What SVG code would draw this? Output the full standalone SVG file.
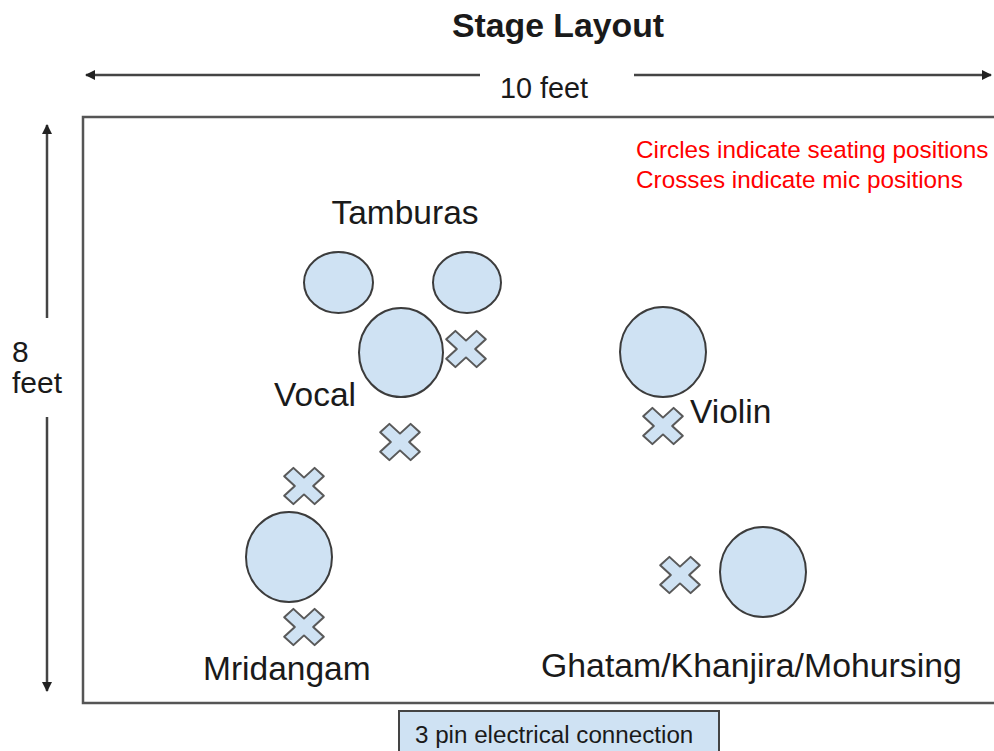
<svg xmlns="http://www.w3.org/2000/svg" xmlns:xlink="http://www.w3.org/1999/xlink" width="994" height="751" viewBox="0 0 994 751">
<style>
.seat{fill:#cfe2f3;stroke:#3c3c3c;stroke-width:2}
.mic{fill:#cfe2f3;stroke:#595959;stroke-width:2;stroke-linejoin:round}
.lbl{font-family:"Liberation Sans",Arial,sans-serif;fill:#1a1a1a}
.note{font-family:"Liberation Sans",Arial,sans-serif;fill:#ff0000;font-size:24.3px}
.dim{stroke:#444;stroke-width:2.5;fill:none}
.edge{stroke:#555;stroke-width:2.5;fill:none}
</style>
<defs>
<polygon id="x" points="-6.5,-21.5 6.5,-21.5 6.5,-6.5 21.5,-6.5 21.5,6.5 6.5,6.5 6.5,21.5 -6.5,21.5 -6.5,6.5 -21.5,6.5 -21.5,-6.5 -6.5,-6.5" transform="scale(1,0.92) rotate(45)"/>
<marker id="ah" viewBox="0 0 10 10" refX="9" refY="5" markerWidth="4" markerHeight="4" orient="auto-start-reverse" markerUnits="strokeWidth">
<path d="M0,0 L10,5 L0,10 z" fill="#222"/>
</marker>
</defs>
<rect width="994" height="751" fill="#ffffff"/>

<g id="title"><text class="lbl" x="558" y="37" font-size="33.8" font-weight="bold" text-anchor="middle" fill="#111">Stage Layout</text></g>

<g id="connectors">
<line class="dim" x1="86" y1="75" x2="480" y2="75" marker-start="url(#ah)"/>
<line class="dim" x1="634" y1="75" x2="991" y2="75" marker-end="url(#ah)"/>
<line class="dim" x1="47" y1="125" x2="47" y2="318" marker-start="url(#ah)"/>
<line class="dim" x1="47" y1="417" x2="47" y2="691" marker-end="url(#ah)"/>
</g>

<g id="width-label"><text class="lbl" x="544" y="98" font-size="28.8" text-anchor="middle">10 feet</text></g>
<g id="depth-label"><text class="lbl" x="12" y="362" font-size="30">8</text><text class="lbl" x="12" y="393" font-size="30">feet</text></g>

<g id="stage"><path class="edge" d="M1000,117 H83 V703 H1000"/></g>

<g id="legend">
<text class="note" x="636" y="158">Circles indicate seating positions</text>
<text class="note" x="636" y="188">Crosses indicate mic positions</text>
</g>

<g id="tamburas">
<ellipse class="seat" cx="338.5" cy="282.5" rx="34.5" ry="30.5"/>
<ellipse class="seat" cx="467" cy="282.5" rx="34" ry="30.5"/>
<text class="lbl" x="405" y="224" font-size="33.5" text-anchor="middle">Tamburas</text>
</g>

<g id="vocal">
<ellipse class="seat" cx="401" cy="352.5" rx="42" ry="44.5"/>
<use href="#x" xlink:href="#x" class="mic" x="466" y="349"/>
<use href="#x" xlink:href="#x" class="mic" x="400" y="442"/>
<text class="lbl" x="274" y="406" font-size="33.5">Vocal</text>
</g>

<g id="violin">
<ellipse class="seat" cx="663" cy="352" rx="43" ry="45"/>
<use href="#x" xlink:href="#x" class="mic" x="663" y="426"/>
<text class="lbl" x="690" y="423" font-size="33.5">Violin</text>
</g>

<g id="mridangam">
<ellipse class="seat" cx="289" cy="557" rx="43" ry="45"/>
<use href="#x" xlink:href="#x" class="mic" x="304" y="486"/>
<use href="#x" xlink:href="#x" class="mic" x="304" y="627"/>
<text class="lbl" x="203" y="680" font-size="33.5">Mridangam</text>
</g>

<g id="ghatam">
<ellipse class="seat" cx="763" cy="572" rx="43" ry="45"/>
<use href="#x" xlink:href="#x" class="mic" x="680" y="575"/>
<text class="lbl" x="541" y="677" font-size="33.8">Ghatam/Khanjira/Mohursing</text>
</g>

<g id="power">
<rect x="399" y="711" width="320" height="50" fill="#cfe2f3" stroke="#444" stroke-width="2"/>
<text class="lbl" x="415" y="743" font-size="24.2" fill="#333">3 pin electrical connection</text>
</g>
</svg>
